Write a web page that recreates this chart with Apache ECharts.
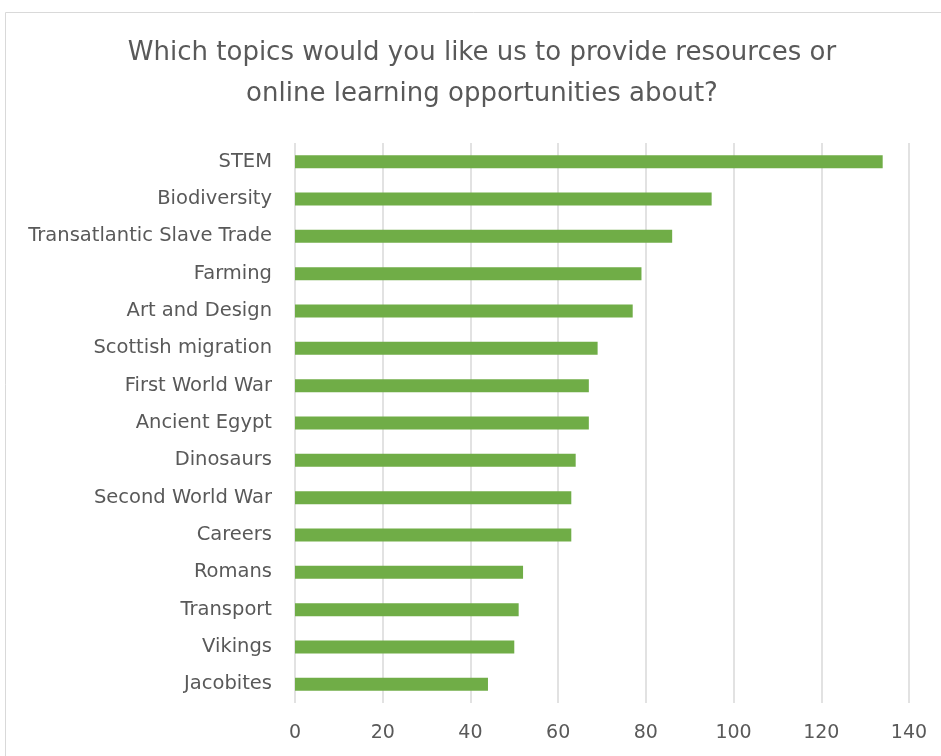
<!DOCTYPE html>
<html>
<head>
<meta charset="utf-8">
<script src="https://cdn.jsdelivr.net/npm/echarts@6/dist/echarts.min.js"></script>
<style>
  html, body { margin: 0; padding: 0; background: #ffffff; }
  #chart { width: 941px; height: 756px; }
</style>
</head>
<body>
<div id="chart"></div>
<script>
// Survey topics, listed top to bottom as shown
const topics = [
  'STEM', 'Biodiversity', 'Transatlantic Slave Trade', 'Farming', 'Art and Design',
  'Scottish migration', 'First World War', 'Ancient Egypt', 'Dinosaurs',
  'Second World War', 'Careers', 'Romans', 'Transport', 'Vikings', 'Jacobites'
];
const responses = [134, 95, 86, 79, 77, 69, 67, 67, 64, 63, 63, 52, 51, 50, 44];
const axisTicks = [0, 20, 40, 60, 80, 100, 120, 140];

const chart = echarts.init(document.getElementById('chart'), null, { renderer: 'canvas' });
const FONT = '"DejaVu Sans", "Open Sans", sans-serif';

chart.setOption({
  backgroundColor: '#ffffff',
  animation: false,
  title: {
    text: 'Which topics would you like us to provide resources or\nonline learning opportunities about?',
    left: 482,
    top: 33,
    padding: 0,
    textAlign: 'center',
    textStyle: {
      fontFamily: FONT,
      fontSize: 26,
      fontWeight: 'normal',
      color: '#595959',
      lineHeight: 41
    }
  },
  graphic: [{
    type: 'rect',
    shape: { x: 5.5, y: 12.5, width: 960, height: 800 },
    style: { fill: 'none', stroke: '#d9d9d9', lineWidth: 1 },
    silent: true
  }],
  grid: { left: 295, right: 32, top: 143, bottom: 53, containLabel: false },
  xAxis: {
    type: 'value',
    min: axisTicks[0],
    max: axisTicks[axisTicks.length - 1],
    interval: axisTicks[1] - axisTicks[0],
    axisLine: { show: false },
    axisTick: { show: false },
    axisLabel: { fontFamily: FONT, fontSize: 19, color: '#595959', margin: 21 },
    splitLine: { show: true, lineStyle: { color: '#d9d9d9', width: 1.5 } }
  },
  yAxis: {
    type: 'category',
    data: topics,
    inverse: true,
    axisLine: { show: false },
    axisTick: { show: false },
    axisLabel: { fontFamily: FONT, fontSize: 19.5, color: '#595959', margin: 23 }
  },
  series: [{
    type: 'bar',
    data: responses,
    barWidth: 13,
    itemStyle: { color: '#70ad47' }
  }]
});
</script>
</body>
</html>
